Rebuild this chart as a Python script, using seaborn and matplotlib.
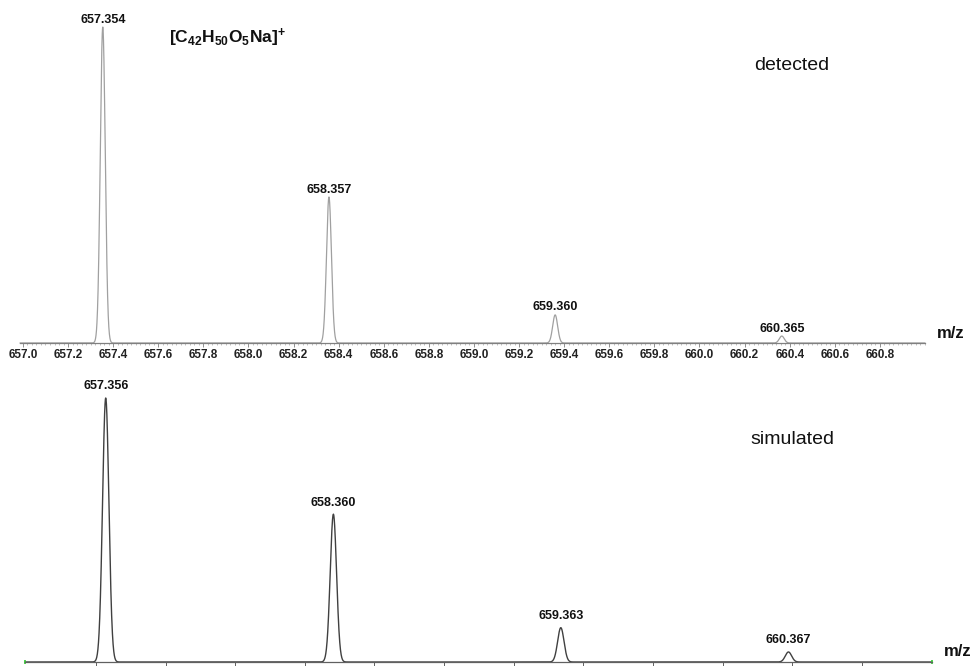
import numpy as np
import pandas as pd
import matplotlib
matplotlib.use("Agg")
import matplotlib.pyplot as plt
import seaborn as sns
from matplotlib.ticker import MultipleLocator, FixedLocator

sns.set_theme(style="white")
plt.rcParams["font.family"] = ["Liberation Sans", "DejaVu Sans"]
plt.rcParams["mathtext.fontset"] = "custom"
plt.rcParams["mathtext.rm"] = "Liberation Sans"
plt.rcParams["mathtext.bf"] = "Liberation Sans:bold"

# Isotope peaks: centroid m/z and relative intensity
detected_mz = [657.354, 658.357, 659.360, 660.365]
detected_int = [1.00, 0.462, 0.089, 0.022]
simulated_mz = [657.356, 658.360, 659.363, 660.367]
simulated_int = [1.00, 0.56, 0.13, 0.038]

# Peak widths (gaussian sigma, in m/z units)
detected_sigma = 0.011
simulated_sigma = 0.014

top_ticks = [657.0, 657.2, 657.4, 657.6, 657.8, 658.0, 658.2, 658.4, 658.6,
             658.8, 659.0, 659.2, 659.4, 659.6, 659.8, 660.0, 660.2, 660.4,
             660.6, 660.8]
top_tick_labels = [f"{v:.1f}" for v in top_ticks]
bottom_ticks = [657.313, 657.620, 657.927, 658.234, 658.541, 658.848,
                659.156, 659.463, 659.770, 660.077, 660.384, 660.691]


def profile(mz, inten, sigma, lo, hi):
    x = np.linspace(lo, hi, 8000)
    y = np.zeros_like(x)
    for m, h in zip(mz, inten):
        y += h * np.exp(-0.5 * ((x - m) / sigma) ** 2)
    return pd.DataFrame({"mz": x, "intensity": y})


W, H = 977, 666
fig = plt.figure(figsize=(W / 100, H / 100), dpi=100)

# ---- detected spectrum ----
ax1 = fig.add_axes([20 / W, (H - 343) / H, 905 / W, (343 - 27) / H])
xlim1 = (656.987, 661.0)
df1 = profile(detected_mz, detected_int, detected_sigma, *xlim1)
sns.lineplot(data=df1, x="mz", y="intensity", ax=ax1, color="#a0a0a0",
             lw=0.9, clip_on=False)
ax1.set_xlim(*xlim1)
ax1.set_ylim(0, 1)
ax1.set_xlabel("")
ax1.set_ylabel("")
ax1.set_yticks([])
for s in ("left", "right", "top"):
    ax1.spines[s].set_visible(False)
ax1.spines["bottom"].set_color("#808080")
ax1.spines["bottom"].set_linewidth(0.9)
ax1.xaxis.set_major_locator(FixedLocator(top_ticks))
ax1.set_xticklabels(top_tick_labels)
ax1.xaxis.set_minor_locator(MultipleLocator(0.02))
ax1.tick_params(axis="x", which="major", bottom=True, length=3, width=0.6,
                color="#808080", pad=1, labelsize=8.5, labelcolor="#222222")
ax1.tick_params(axis="x", which="minor", bottom=True, length=1.5, width=0.4,
                color="#909090")
for lab in ax1.get_xticklabels():
    lab.set_fontweight("bold")
for m, h in zip(detected_mz, detected_int):
    ax1.annotate(f"{m:.3f}", xy=(m, h), xytext=(0, 1), textcoords="offset points",
                 ha="center", va="bottom", fontsize=9, fontweight="bold",
                 color="#111111", annotation_clip=False)

# ---- simulated spectrum ----
ax2 = fig.add_axes([25 / W, 4 / H, 907 / W, (662 - 398) / H])
xlim2 = (657.0, 661.0)
df2 = profile(simulated_mz, simulated_int, simulated_sigma, *xlim2)
sns.lineplot(data=df2, x="mz", y="intensity", ax=ax2, color="#404040",
             lw=1.0, clip_on=False)
ax2.set_xlim(*xlim2)
ax2.set_ylim(0, 1)
ax2.set_xlabel("")
ax2.set_ylabel("")
ax2.set_yticks([])
for s in ("left", "right", "top"):
    ax2.spines[s].set_visible(False)
ax2.spines["bottom"].set_color("#606060")
ax2.spines["bottom"].set_linewidth(0.9)
ax2.xaxis.set_major_locator(FixedLocator(bottom_ticks))
ax2.tick_params(axis="x", which="major", bottom=True, length=4, width=0.7,
                color="#606060", labelbottom=False)
ax2.plot([0, 1], [0, 0], transform=ax2.transAxes, ls="none", marker="|",
         ms=3, mew=1.2, color="#33cc33", clip_on=False)
for m, h in zip(simulated_mz, simulated_int):
    ax2.annotate(f"{m:.3f}", xy=(m, h), xytext=(0, 4), textcoords="offset points",
                 ha="center", va="bottom", fontsize=9, fontweight="bold",
                 color="#111111", annotation_clip=False)

# ---- annotations ----
fig.text(227 / W, 1 - 38 / H, r"$\mathbf{[C_{42}H_{50}O_{5}Na]^{+}}$",
         ha="center", va="center", fontsize=12.5, color="#111111")
fig.text(792 / W, 1 - 66 / H, "detected", ha="center", va="center",
         fontsize=14, color="#111111")
fig.text(792 / W, 1 - 440 / H, "simulated", ha="center", va="center",
         fontsize=14, color="#111111")
fig.text(951 / W, 1 - 333 / H, "m/z", ha="center", va="center",
         fontsize=12, fontweight="bold", color="#111111")
fig.text(958 / W, 1 - 652 / H, "m/z", ha="center", va="center",
         fontsize=12, fontweight="bold", color="#111111")

fig.savefig("out.png", dpi=100, facecolor="white")
